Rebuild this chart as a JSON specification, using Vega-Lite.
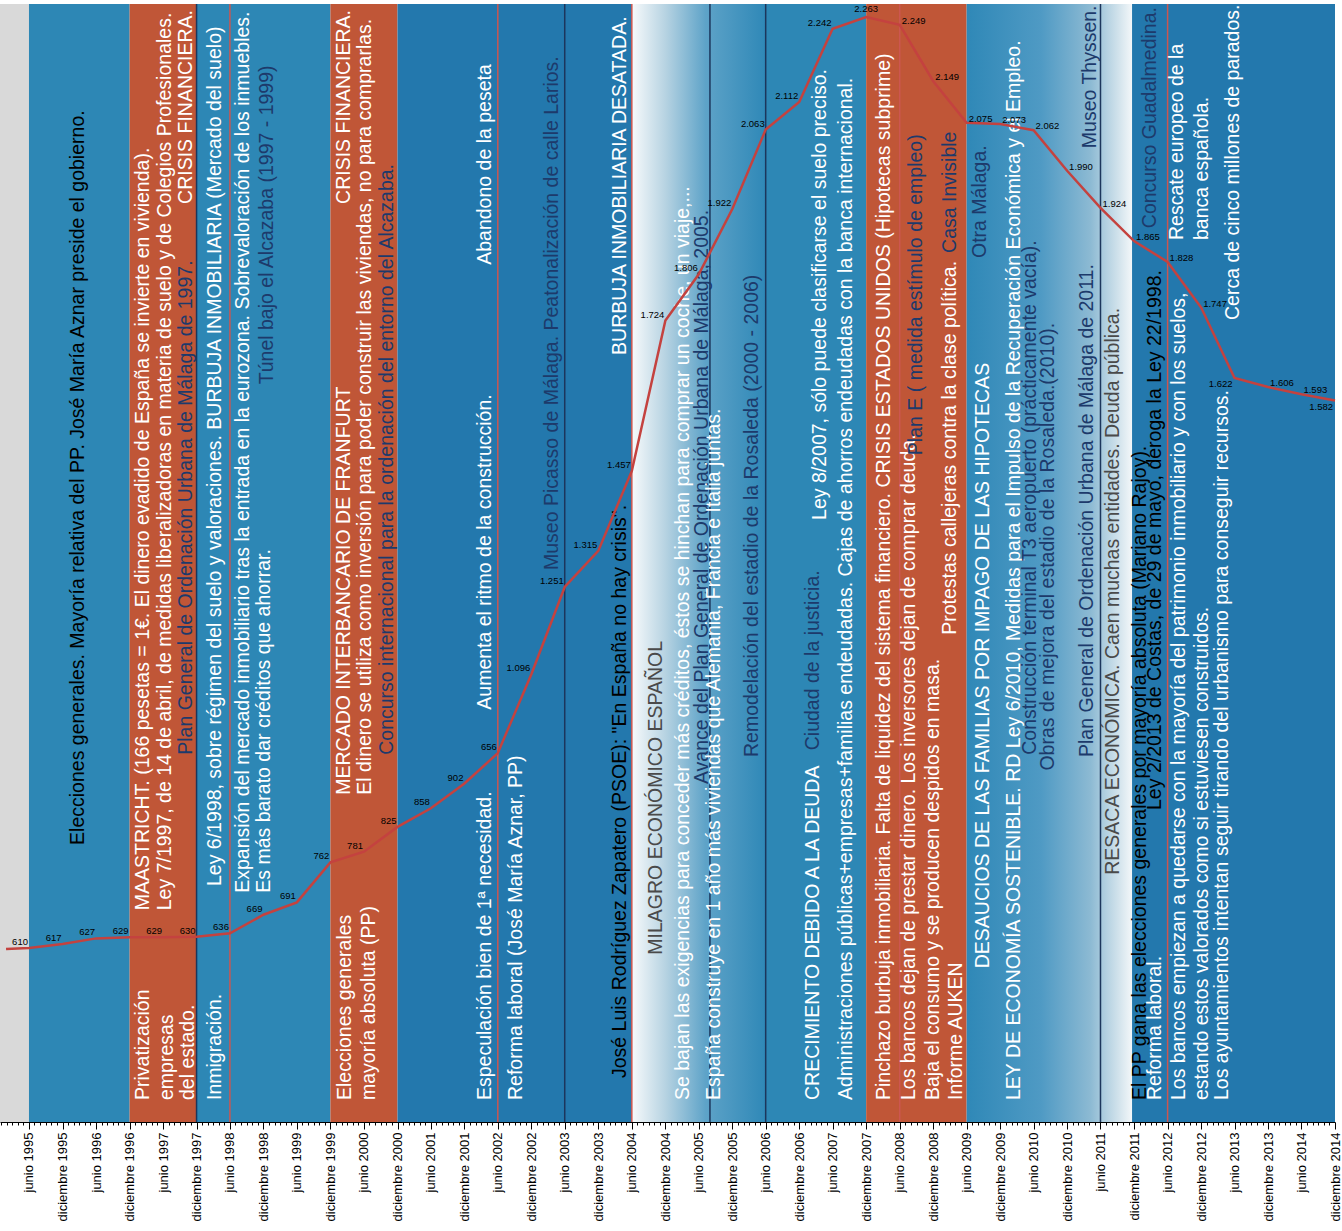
{
  "$schema": "https://vega.github.io/schema/vega-lite/v6.json",
  "width": 1335,
  "height": 1118,
  "autosize": {"type": "none"},
  "padding": {"left": 0, "top": 4, "right": 7, "bottom": 109},
  "background": "white",
  "config": {"view": {"stroke": null}, "font": "Liberation Sans"},
  "datasets": {
    "bandas": [
      {"fecha": "1994-12-25", "fin": "1995-06-01", "tipo": "gris"},
      {"fecha": "1995-06-01", "fin": "1996-12-01", "tipo": "azul"},
      {"fecha": "1996-12-01", "fin": "1997-12-01", "tipo": "naranja"},
      {"fecha": "1997-12-01", "fin": "1999-12-01", "tipo": "azul"},
      {"fecha": "1999-12-01", "fin": "2000-12-01", "tipo": "naranja"},
      {"fecha": "2000-12-01", "fin": "2004-06-01", "tipo": "azul oscuro"},
      {"fecha": "2004-06-01", "fin": "2006-06-01", "tipo": "degradado subida"},
      {"fecha": "2006-06-01", "fin": "2007-12-01", "tipo": "azul"},
      {"fecha": "2007-12-01", "fin": "2009-06-01", "tipo": "naranja"},
      {"fecha": "2009-06-01", "fin": "2011-11-20", "tipo": "degradado bajada"},
      {"fecha": "2011-11-20", "fin": "2014-12-01", "tipo": "azul oscuro"}
    ],
    "lineas": [
      {"fecha": "1997-12-01", "tipo": "azul"},
      {"fecha": "1998-06-01", "tipo": "rojo"},
      {"fecha": "2002-06-01", "tipo": "rojo"},
      {"fecha": "2003-06-01", "tipo": "azul"},
      {"fecha": "2004-06-01", "tipo": "rojo"},
      {"fecha": "2005-08-01", "tipo": "azul"},
      {"fecha": "2006-06-01", "tipo": "azul"},
      {"fecha": "2008-06-01", "tipo": "rojo"},
      {"fecha": "2011-06-01", "tipo": "azul"},
      {"fecha": "2012-06-01", "tipo": "rojo"}
    ],
    "serie": [
      {"fecha": "1995-01-27", "valor": 608, "etiqueta": ""},
      {"fecha": "1995-06-01", "valor": 610, "etiqueta": "610"},
      {"fecha": "1995-12-01", "valor": 617, "etiqueta": "617"},
      {"fecha": "1996-06-01", "valor": 627, "etiqueta": "627"},
      {"fecha": "1996-12-01", "valor": 629, "etiqueta": "629"},
      {"fecha": "1997-06-01", "valor": 629, "etiqueta": "629"},
      {"fecha": "1997-12-01", "valor": 630, "etiqueta": "630"},
      {"fecha": "1998-06-01", "valor": 636, "etiqueta": "636"},
      {"fecha": "1998-12-01", "valor": 669, "etiqueta": "669"},
      {"fecha": "1999-06-01", "valor": 691, "etiqueta": "691"},
      {"fecha": "1999-12-01", "valor": 762, "etiqueta": "762"},
      {"fecha": "2000-06-01", "valor": 781, "etiqueta": "781"},
      {"fecha": "2000-12-01", "valor": 825, "etiqueta": "825"},
      {"fecha": "2001-06-01", "valor": 858, "etiqueta": "858"},
      {"fecha": "2001-12-01", "valor": 902, "etiqueta": "902"},
      {"fecha": "2002-06-01", "valor": 956, "etiqueta": "656"},
      {"fecha": "2002-12-01", "valor": 1096, "etiqueta": "1.096"},
      {"fecha": "2003-06-01", "valor": 1251, "etiqueta": "1.251"},
      {"fecha": "2003-12-01", "valor": 1315, "etiqueta": "1.315"},
      {"fecha": "2004-06-01", "valor": 1457, "etiqueta": "1.457"},
      {"fecha": "2004-12-01", "valor": 1724, "etiqueta": "1.724"},
      {"fecha": "2005-06-01", "valor": 1806, "etiqueta": "1.806"},
      {"fecha": "2005-12-01", "valor": 1922, "etiqueta": "1.922"},
      {"fecha": "2006-06-01", "valor": 2063, "etiqueta": "2.063"},
      {"fecha": "2006-12-01", "valor": 2112, "etiqueta": "2.112"},
      {"fecha": "2007-06-01", "valor": 2242, "etiqueta": "2.242"},
      {"fecha": "2007-12-01", "valor": 2263, "etiqueta": "2.263"},
      {"fecha": "2008-06-01", "valor": 2249, "etiqueta": "2.249"},
      {"fecha": "2008-12-01", "valor": 2149, "etiqueta": "2.149"},
      {"fecha": "2009-06-01", "valor": 2075, "etiqueta": "2.075"},
      {"fecha": "2009-12-01", "valor": 2073, "etiqueta": "2.073"},
      {"fecha": "2010-06-01", "valor": 2062, "etiqueta": "2.062"},
      {"fecha": "2010-12-01", "valor": 1990, "etiqueta": "1.990"},
      {"fecha": "2011-06-01", "valor": 1924, "etiqueta": "1.924"},
      {"fecha": "2011-12-01", "valor": 1865, "etiqueta": "1.865"},
      {"fecha": "2012-06-01", "valor": 1828, "etiqueta": "1.828"},
      {"fecha": "2012-12-01", "valor": 1747, "etiqueta": "1.747"},
      {"fecha": "2013-06-01", "valor": 1622, "etiqueta": "1.622"},
      {"fecha": "2013-12-01", "valor": 1606, "etiqueta": "1.606"},
      {"fecha": "2014-06-01", "valor": 1593, "etiqueta": "1.593"},
      {"fecha": "2014-12-01", "valor": 1582, "etiqueta": "1.582"}
    ],
    "notas": [
      {"fecha": "1996-02-24", "valor": 793, "tono": "negro", "texto": "Elecciones generales. Mayoría relativa del PP. José María Aznar preside el gobierno."},
      {"fecha": "1997-02-12", "valor": 340, "tono": "blanco", "texto": "Privatización"},
      {"fecha": "1997-06-21", "valor": 340, "tono": "blanco", "texto": "empresas"},
      {"fecha": "1997-10-13", "valor": 340, "tono": "blanco", "texto": "del estado."},
      {"fecha": "1997-02-12", "valor": 677, "tono": "blanco", "texto": "MAASTRICHT. (166 pesetas = 1€. El dinero evadido de España se invierte en vivienda)."},
      {"fecha": "1997-06-10", "valor": 677, "tono": "blanco", "texto": "Ley 7/1997, de 14 de abril, de medidas liberalizadoras en materia de suelo y de Colegios Profesionales."},
      {"fecha": "1997-10-07", "valor": 953, "tono": "azul", "texto": "Plan General de Ordenación Urbana de Málaga de 1997."},
      {"fecha": "1997-10-07", "valor": 1931, "tono": "blanco", "texto": "CRISIS FINANCIERA."},
      {"fecha": "1998-03-09", "valor": 340, "tono": "blanco", "texto": "Inmigración."},
      {"fecha": "1998-03-09", "valor": 720, "tono": "blanco", "texto": "Ley 6/1998, sobre régimen del suelo y valoraciones.   BURBUJA INMOBILIARIA (Mercado del suelo)"},
      {"fecha": "1998-08-09", "valor": 708, "tono": "blanco", "texto": "Expansión del mercado inmobiliario tras la entrada en la eurozona. Sobrevaloración de los inmuebles."},
      {"fecha": "1998-12-06", "valor": 708, "tono": "blanco", "texto": "Es más barato dar créditos que ahorrar."},
      {"fecha": "1998-12-22", "valor": 1611, "tono": "azul", "texto": "Túnel bajo el Alcazaba (1997 - 1999)"},
      {"fecha": "2000-02-21", "valor": 340, "tono": "blanco", "texto": "Elecciones generales"},
      {"fecha": "2000-07-01", "valor": 340, "tono": "blanco", "texto": "mayoría absoluta (PP)"},
      {"fecha": "2000-02-15", "valor": 882, "tono": "blanco", "texto": "MERCADO INTERBANCARIO DE FRANFURT"},
      {"fecha": "2000-02-15", "valor": 1931, "tono": "blanco", "texto": "CRISIS FINANCIERA."},
      {"fecha": "2000-06-07", "valor": 882, "tono": "blanco", "texto": "El dinero se utiliza como inversión para poder construir las viviendas, no para comprarlas."},
      {"fecha": "2000-10-06", "valor": 953, "tono": "azul", "texto": "Concurso internacional para la ordenación del entorno del Alcazaba."},
      {"fecha": "2002-03-21", "valor": 340, "tono": "blanco", "texto": "Especulación bien de 1ª necesidad."},
      {"fecha": "2002-03-21", "valor": 1033, "tono": "blanco", "texto": "Aumenta el ritmo de la construcción."},
      {"fecha": "2002-03-21", "valor": 1823, "tono": "blanco", "texto": "Abandono de la peseta"},
      {"fecha": "2002-09-07", "valor": 340, "tono": "blanco", "texto": "Reforma laboral (José María Aznar, PP)"},
      {"fecha": "2003-03-21", "valor": 1281, "tono": "azul", "texto": "Museo Picasso de Málaga. Peatonalización de calle Larios."},
      {"fecha": "2004-03-28", "valor": 379, "tono": "negro", "texto": "José Luis Rodríguez Zapatero (PSOE): \"En España no hay crisis\"."},
      {"fecha": "2004-03-28", "valor": 1663, "tono": "blanco", "texto": "BURBUJA INMOBILIARIA DESATADA."},
      {"fecha": "2004-10-09", "valor": 598, "tono": "gris", "texto": "MILAGRO ECONÓMICO ESPAÑOL"},
      {"fecha": "2005-03-09", "valor": 340, "tono": "blanco", "texto": "Se bajan las exigencias para conceder más créditos, éstos se hinchan para comprar un coche, un viaje,..."},
      {"fecha": "2005-06-16", "valor": 901, "tono": "azul", "texto": "Avance del Plan General de Ordenación Urbana de Málaga, 2005."},
      {"fecha": "2005-08-25", "valor": 340, "tono": "blanco", "texto": "España construye en 1 año más viviendas que Alemania, Francia e Italia juntas."},
      {"fecha": "2006-03-19", "valor": 949, "tono": "azul", "texto": "Remodelación del estadio de la Rosaleda (2000 - 2006)"},
      {"fecha": "2007-02-16", "valor": 340, "tono": "blanco", "texto": "CRECIMIENTO DEBIDO A LA DEUDA"},
      {"fecha": "2007-02-16", "valor": 961, "tono": "azul", "texto": "Ciudad de la justicia."},
      {"fecha": "2007-03-24", "valor": 1370, "tono": "blanco", "texto": "Ley 8/2007, sólo puede clasificarse el suelo preciso."},
      {"fecha": "2007-08-13", "valor": 340, "tono": "blanco", "texto": "Administraciones públicas+empresas+familias endeudadas. Cajas de ahorros endeudadas con la banca internacional."},
      {"fecha": "2008-03-07", "valor": 340, "tono": "blanco", "texto": "Pinchazo burbuja inmobiliaria. Falta de liquidez del sistema financiero.    CRISIS ESTADOS UNIDOS (Hipotecas subprime)"},
      {"fecha": "2008-07-21", "valor": 340, "tono": "blanco", "texto": "Los bancos dejan de prestar dinero. Los inversores dejan de comprar deuda."},
      {"fecha": "2008-08-28", "valor": 1485, "tono": "azul", "texto": "Plan E ( medida estímulo de empleo)"},
      {"fecha": "2008-12-01", "valor": 340, "tono": "blanco", "texto": "Baja el consumo y se producen despidos en masa."},
      {"fecha": "2009-03-01", "valor": 1166, "tono": "blanco", "texto": "Protestas callejeras contra la clase política."},
      {"fecha": "2009-03-01", "valor": 1844, "tono": "azul", "texto": "Casa Invisible"},
      {"fecha": "2009-04-03", "valor": 340, "tono": "blanco", "texto": "Informe AUKEN"},
      {"fecha": "2009-08-28", "valor": 574, "tono": "blanco", "texto": "DESAUCIOS DE LAS FAMILIAS POR IMPAGO DE LAS HIPOTECAS"},
      {"fecha": "2009-08-12", "valor": 1835, "tono": "azul", "texto": "Otra Málaga."},
      {"fecha": "2010-02-13", "valor": 340, "tono": "blanco", "texto": "LEY DE ECONOMÍA SOSTENIBLE. RD Ley 6/2010, Medidas para el Impulso de la Recuperación Económica y   el Empleo."},
      {"fecha": "2010-05-15", "valor": 953, "tono": "azul", "texto": "Construcción terminal T3  aeropuerto (prácticamente vacía)."},
      {"fecha": "2010-08-16", "valor": 925, "tono": "azul", "texto": "Obras de mejora del estadio de la Rosaleda.(2010)."},
      {"fecha": "2011-03-21", "valor": 949, "tono": "azul", "texto": "Plan General de Ordenación Urbana de Málaga de 2011."},
      {"fecha": "2011-04-06", "valor": 2030, "tono": "azul", "texto": "Museo Thyssen."},
      {"fecha": "2011-08-10", "valor": 740, "tono": "gris", "texto": "RESACA ECONÓMICA. Caen muchas entidades. Deuda pública."},
      {"fecha": "2012-01-01", "valor": 340, "tono": "negro", "texto": "El PP gana las elecciones generales por mayoría absoluta (Mariano Rajoy)."},
      {"fecha": "2012-03-25", "valor": 340, "tono": "blanco", "texto": "Reforma laboral."},
      {"fecha": "2012-03-25", "valor": 855, "tono": "negro", "texto": "Ley 2/2013 de Costas, de 29 de mayo, deroga la Ley 22/1998."},
      {"fecha": "2012-02-28", "valor": 1888, "tono": "azul", "texto": "Concurso Guadalmedina."},
      {"fecha": "2012-08-04", "valor": 340, "tono": "blanco", "texto": "Los bancos empiezan a quedarse con la mayoría del patrimonio inmobiliario y con los suelos,"},
      {"fecha": "2012-12-04", "valor": 340, "tono": "blanco", "texto": "estando estos valorados como si estuviesen construidos."},
      {"fecha": "2013-03-25", "valor": 340, "tono": "blanco", "texto": "Los ayuntamientos intentan seguir tirando del urbanismo para conseguir recursos."},
      {"fecha": "2012-07-25", "valor": 1867, "tono": "blanco", "texto": "Rescate europeo de la"},
      {"fecha": "2012-12-04", "valor": 1867, "tono": "blanco", "texto": "banca española."},
      {"fecha": "2013-05-25", "valor": 1725, "tono": "blanco", "texto": "Cerca de cinco millones de parados."}
    ]
  },
  "encoding": {
    "x": {
      "field": "fecha",
      "type": "temporal",
      "scale": {"type": "utc", "domain": [{"year": 1994, "month": 12, "date": 25, "utc": true}, {"year": 2014, "month": 12, "date": 1, "utc": true}], "nice": false},
      "axis": {
        "title": null,
        "grid": false,
        "tickCount": {"interval": "month", "step": 1},
        "labelExpr": "utcmonth(datum.value) == 5 ? 'junio ' + utcyear(datum.value) : (utcmonth(datum.value) == 11 ? 'diciembre ' + utcyear(datum.value) : '')",
        "labelAngle": 270,
        "labelAlign": "right",
        "labelBaseline": "middle",
        "labelFont": "Liberation Sans",
        "labelFontSize": 13,
        "labelColor": "#000000",
        "labelOverlap": false,
        "labelFlush": false,
        "labelBound": false,
        "labelPadding": 3,
        "tickColor": "#000000",
        "domainColor": "#000000",
        "tickSize": {"condition": {"test": "utcmonth(datum.value) == 5 || utcmonth(datum.value) == 11", "value": 7}, "value": 3}
      }
    }
  },
  "layer": [
    {
      "data": {"name": "bandas"},
      "transform": [{"filter": "datum.tipo != 'degradado subida' && datum.tipo != 'degradado bajada'"}],
      "mark": {"type": "rect"},
      "encoding": {
        "x2": {"field": "fin"},
        "fill": {"field": "tipo", "type": "nominal", "scale": {"domain": ["gris", "azul", "naranja", "azul oscuro"], "range": ["#d9d9d9", "#2d87b5", "#c05637", "#2378ad"]}, "legend": null}
      }
    },
    {
      "data": {"name": "bandas"},
      "transform": [{"filter": "datum.tipo == 'degradado subida'"}],
      "mark": {"type": "rect", "fill": {"gradient": "linear", "x1": 0, "y1": 0, "x2": 1, "y2": 0, "stops": [{"offset": 0, "color": "#f7fafb"}, {"offset": 0.25, "color": "#b7d3e2"}, {"offset": 0.55, "color": "#5ea3c8"}, {"offset": 1, "color": "#2f88b7"}]}},
      "encoding": {"x2": {"field": "fin"}}
    },
    {
      "data": {"name": "bandas"},
      "transform": [{"filter": "datum.tipo == 'degradado bajada'"}],
      "mark": {"type": "rect", "fill": {"gradient": "linear", "x1": 0, "y1": 0, "x2": 1, "y2": 0, "stops": [{"offset": 0, "color": "#2f88b7"}, {"offset": 0.45, "color": "#4f9ac4"}, {"offset": 0.75, "color": "#8dbad3"}, {"offset": 0.92, "color": "#d2e3ec"}, {"offset": 1, "color": "#f3f7f9"}]}},
      "encoding": {"x2": {"field": "fin"}}
    },
    {
      "data": {"name": "lineas"},
      "mark": {"type": "rule", "strokeWidth": 1.5},
      "encoding": {
        "stroke": {"field": "tipo", "type": "nominal", "scale": {"domain": ["azul", "rojo"], "range": ["#1c365c", "#cc5650"]}, "legend": null}
      }
    },
    {
      "data": {"name": "notas"},
      "mark": {"type": "text", "angle": 270, "align": "left", "baseline": "middle", "fontSize": 19.5, "font": "Liberation Sans"},
      "encoding": {
        "y": {"field": "valor", "type": "quantitative", "scale": {"domain": [301, 2286], "nice": false, "zero": false}, "axis": null},
        "text": {"field": "texto"},
        "color": {"field": "tono", "type": "nominal", "scale": {"domain": ["blanco", "azul", "negro", "gris"], "range": ["#ffffff", "#1d3a6b", "#000000", "#4a4a4a"]}, "legend": null}
      }
    },
    {
      "data": {"name": "serie"},
      "mark": {"type": "line", "color": "#c4423f", "strokeWidth": 2.5},
      "encoding": {
        "y": {"field": "valor", "type": "quantitative", "scale": {"domain": [301, 2286], "nice": false, "zero": false}, "axis": null}
      }
    },
    {
      "data": {"name": "serie"},
      "transform": [{"filter": "time(datum.fecha) < utc(2007, 9, 1)"}],
      "mark": {"type": "text", "align": "right", "baseline": "middle", "dx": -1, "dy": -6, "fontSize": 9.5, "font": "Liberation Sans", "color": "#000000"},
      "encoding": {
        "y": {"field": "valor", "type": "quantitative", "scale": {"domain": [301, 2286], "nice": false, "zero": false}, "axis": null},
        "text": {"field": "etiqueta"}
      }
    },
    {
      "data": {"name": "serie"},
      "transform": [{"filter": "time(datum.fecha) >= utc(2007, 9, 1) && time(datum.fecha) < utc(2008, 1, 1)"}],
      "mark": {"type": "text", "align": "center", "baseline": "middle", "dy": -8, "fontSize": 9.5, "font": "Liberation Sans", "color": "#000000"},
      "encoding": {
        "y": {"field": "valor", "type": "quantitative", "scale": {"domain": [301, 2286], "nice": false, "zero": false}, "axis": null},
        "text": {"field": "etiqueta"}
      }
    },
    {
      "data": {"name": "serie"},
      "transform": [{"filter": "time(datum.fecha) >= utc(2008, 1, 1) && datum.etiqueta != '1.622' && datum.etiqueta != '1.582'"}],
      "mark": {"type": "text", "align": "left", "baseline": "middle", "dx": 2, "dy": -4, "fontSize": 9.5, "font": "Liberation Sans", "color": "#000000"},
      "encoding": {
        "y": {"field": "valor", "type": "quantitative", "scale": {"domain": [301, 2286], "nice": false, "zero": false}, "axis": null},
        "text": {"field": "etiqueta"}
      }
    },
    {
      "data": {"name": "serie"},
      "transform": [{"filter": "datum.etiqueta == '1.622' || datum.etiqueta == '1.582'"}],
      "mark": {"type": "text", "align": "right", "baseline": "top", "dx": -2, "dy": 1, "fontSize": 9.5, "font": "Liberation Sans", "color": "#000000"},
      "encoding": {
        "y": {"field": "valor", "type": "quantitative", "scale": {"domain": [301, 2286], "nice": false, "zero": false}, "axis": null},
        "text": {"field": "etiqueta"}
      }
    }
  ]
}
